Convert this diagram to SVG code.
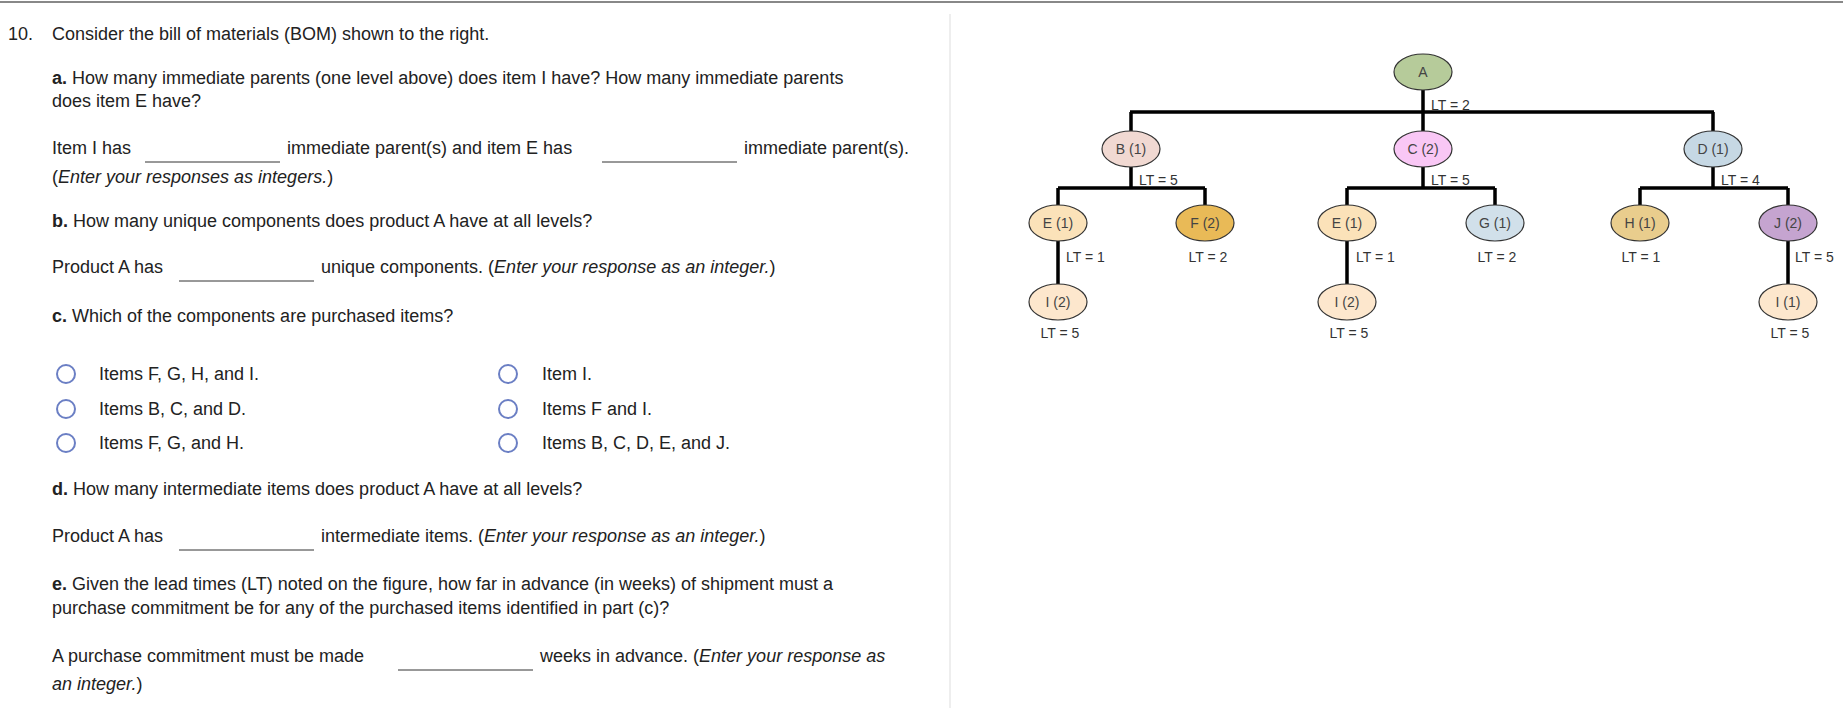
<svg xmlns="http://www.w3.org/2000/svg" width="1843" height="708" viewBox="0 0 1843 708">
<style>
.t{font-family:"Liberation Sans",Arial,sans-serif;font-size:18px;fill:#222}
.i{font-style:italic}
.b{font-weight:bold}
.blank{stroke:#333;stroke-width:1}
.radio{fill:#fff;stroke:#6b7fc4;stroke-width:2}
.n{stroke:#333;stroke-width:1.2}
.nl{font-family:"Liberation Sans",Arial,sans-serif;font-size:14px;fill:#444;text-anchor:middle}
.lt{font-family:"Liberation Sans",Arial,sans-serif;font-size:14px;fill:#333}
.c{stroke:#000;stroke-width:3.5;fill:none}
</style>
<rect width="1843" height="708" fill="#fff"/>
<line x1="0" y1="2" x2="1843" y2="2" stroke="#888" stroke-width="2"/>
<line x1="950" y1="14" x2="950" y2="708" stroke="#ddd" stroke-width="1"/>
<g id="question">
<text class="t" x="8" y="40" fill="#555">10.</text>
<text class="t" x="52" y="40">Consider the bill of materials (BOM) shown to the right.</text>
<text class="t" x="52" y="84"><tspan class="b">a.</tspan> How many immediate parents (one level above) does item I have? How many immediate parents</text>
<text class="t" x="52" y="107">does item E have?</text>
<text class="t" x="52" y="154">Item I has</text>
<line class="blank" x1="145" y1="162" x2="280" y2="162"/>
<text class="t" x="287" y="154">immediate parent(s) and item E has</text>
<line class="blank" x1="602" y1="162" x2="737" y2="162"/>
<text class="t" x="744" y="154">immediate parent(s).</text>
<text class="t" x="52" y="183">(<tspan class="i">Enter your responses as integers.</tspan>)</text>
<text class="t" x="52" y="227"><tspan class="b">b.</tspan> How many unique components does product A have at all levels?</text>
<text class="t" x="52" y="273">Product A has</text>
<line class="blank" x1="179" y1="281" x2="314" y2="281"/>
<text class="t" x="321" y="273">unique components. (<tspan class="i">Enter your response as an integer.</tspan>)</text>
<text class="t" x="52" y="322"><tspan class="b">c.</tspan> Which of the components are purchased items?</text>
<circle class="radio" cx="66" cy="374" r="9"/><text class="t" x="99" y="380">Items F, G, H, and I.</text>
<circle class="radio" cx="66" cy="409" r="9"/><text class="t" x="99" y="415">Items B, C, and D.</text>
<circle class="radio" cx="66" cy="443" r="9"/><text class="t" x="99" y="449">Items F, G, and H.</text>
<circle class="radio" cx="508" cy="374" r="9"/><text class="t" x="542" y="380">Item I.</text>
<circle class="radio" cx="508" cy="409" r="9"/><text class="t" x="542" y="415">Items F and I.</text>
<circle class="radio" cx="508" cy="443" r="9"/><text class="t" x="542" y="449">Items B, C, D, E, and J.</text>
<text class="t" x="52" y="495"><tspan class="b">d.</tspan> How many intermediate items does product A have at all levels?</text>
<text class="t" x="52" y="542">Product A has</text>
<line class="blank" x1="179" y1="550" x2="314" y2="550"/>
<text class="t" x="321" y="542">intermediate items. (<tspan class="i">Enter your response as an integer.</tspan>)</text>
<text class="t" x="52" y="590"><tspan class="b">e.</tspan> Given the lead times (LT) noted on the figure, how far in advance (in weeks) of shipment must a</text>
<text class="t" x="52" y="614">purchase commitment be for any of the purchased items identified in part (c)?</text>
<text class="t" x="52" y="662">A purchase commitment must be made</text>
<line class="blank" x1="398" y1="670" x2="533" y2="670"/>
<text class="t" x="540" y="662">weeks in advance. (<tspan class="i">Enter your response as</tspan></text>
<text class="t i" x="52" y="690">an integer.<tspan font-style="normal">)</tspan></text>
</g>
<g id="connectors">
<path class="c" d="M1423 90V112M1130 112H1714M1131 112V131M1423 112V131M1713 112V131"/>
<path class="c" d="M1131 167V188M1058 188H1205M1058 188V205M1205 188V205"/>
<path class="c" d="M1423 167V188M1347 188H1495M1347 188V205M1495 188V205"/>
<path class="c" d="M1713 167V188M1640 188H1788M1640 188V205M1788 188V205"/>
<path class="c" d="M1058 241V284M1347 241V284M1788 241V284"/>
</g>
<g id="A"><ellipse class="n" cx="1423" cy="72" rx="29" ry="18" fill="#b6cb9a"/><text class="nl" x="1423" y="77">A</text><text class="lt" x="1431" y="110">LT = 2</text></g>
<g id="B"><ellipse class="n" cx="1131" cy="149" rx="29" ry="18" fill="#f1d9d2"/><text class="nl" x="1131" y="154">B (1)</text><text class="lt" x="1139" y="185">LT = 5</text></g>
<g id="C"><ellipse class="n" cx="1423" cy="149" rx="29" ry="18" fill="#f9c7f5"/><text class="nl" x="1423" y="154">C (2)</text><text class="lt" x="1431" y="185">LT = 5</text></g>
<g id="D"><ellipse class="n" cx="1713" cy="149" rx="29" ry="18" fill="#c6d8e4"/><text class="nl" x="1713" y="154">D (1)</text><text class="lt" x="1721" y="185">LT = 4</text></g>
<g id="E1"><ellipse class="n" cx="1058" cy="223" rx="29" ry="18" fill="#fbe2b9"/><text class="nl" x="1058" y="228">E (1)</text><text class="lt" x="1066" y="262">LT = 1</text></g>
<g id="F"><ellipse class="n" cx="1205" cy="223" rx="29" ry="18" fill="#e9ba57"/><text class="nl" x="1205" y="228">F (2)</text><text class="lt" x="1208" y="262" text-anchor="middle">LT = 2</text></g>
<g id="E2"><ellipse class="n" cx="1347" cy="223" rx="29" ry="18" fill="#fbe2b9"/><text class="nl" x="1347" y="228">E (1)</text><text class="lt" x="1356" y="262">LT = 1</text></g>
<g id="G"><ellipse class="n" cx="1495" cy="223" rx="29" ry="18" fill="#d1e0ea"/><text class="nl" x="1495" y="228">G (1)</text><text class="lt" x="1497" y="262" text-anchor="middle">LT = 2</text></g>
<g id="H"><ellipse class="n" cx="1640" cy="223" rx="29" ry="18" fill="#e9cd8d"/><text class="nl" x="1640" y="228">H (1)</text><text class="lt" x="1641" y="262" text-anchor="middle">LT = 1</text></g>
<g id="J"><ellipse class="n" cx="1788" cy="223" rx="29" ry="18" fill="#c5a4d0"/><text class="nl" x="1788" y="228">J (2)</text><text class="lt" x="1795" y="262">LT = 5</text></g>
<g id="I1"><ellipse class="n" cx="1058" cy="302" rx="29" ry="18" fill="#fde7cd"/><text class="nl" x="1058" y="307">I (2)</text><text class="lt" x="1060" y="338" text-anchor="middle">LT = 5</text></g>
<g id="I2"><ellipse class="n" cx="1347" cy="302" rx="29" ry="18" fill="#fde7cd"/><text class="nl" x="1347" y="307">I (2)</text><text class="lt" x="1349" y="338" text-anchor="middle">LT = 5</text></g>
<g id="I3"><ellipse class="n" cx="1788" cy="302" rx="29" ry="18" fill="#fde7cd"/><text class="nl" x="1788" y="307">I (1)</text><text class="lt" x="1790" y="338" text-anchor="middle">LT = 5</text></g>
</svg>
